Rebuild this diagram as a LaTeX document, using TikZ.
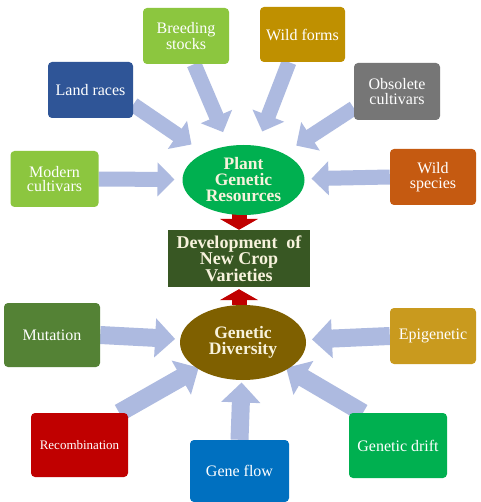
\documentclass[tikz,border=0pt]{standalone}
\usepackage{fontspec}
\setmainfont{Liberation Serif}
\usetikzlibrary{arrows.meta,shapes.geometric,calc}
\pgfdeclarelayer{back}
\pgfdeclarelayer{bg}
\pgfsetlayers{back,bg,main}
\definecolor{cLight}{HTML}{8CC63F}
\definecolor{cGold}{HTML}{BF9000}
\definecolor{cGoldB}{HTML}{C99A1E}
\definecolor{cNavy}{HTML}{2F5597}
\definecolor{cGray}{HTML}{767676}
\definecolor{cOrange}{HTML}{C55A11}
\definecolor{cGreen}{HTML}{00B050}
\definecolor{cDark}{HTML}{385723}
\definecolor{cBrown}{HTML}{7F6000}
\definecolor{cMut}{HTML}{548235}
\definecolor{cRed}{HTML}{C00000}
\definecolor{cBlue}{HTML}{0070C0}
\definecolor{cArrow}{HTML}{ADBAE0}
\definecolor{cCream}{HTML}{F7F2DC}
\tikzset{
  box/.style={draw=none, rounded corners=4pt, inner sep=0pt, align=center,
    text=white, font=\fontsize{16}{14.5}\selectfont},
  oval/.style={ellipse, draw=none, inner sep=0pt, align=center, text=cCream,
    font=\fontsize{17.5}{16}\selectfont\bfseries},
  fatA/.style={draw=cArrow, line width=15pt, -{Triangle[width=33pt,length=17pt]}},
  fatB/.style={draw=cArrow, line width=18pt, -{Triangle[width=38pt,length=20pt]}},
  redarr/.style={draw=cRed, line width=15pt, -{Triangle[width=38pt,length=11pt]}}
}
\begin{document}
\begin{tikzpicture}[x=1pt,y=-1pt]
\begin{pgfonlayer}{back}
\fill[white] (0,0) rectangle (480,502);
\end{pgfonlayer}
\useasboundingbox (0,0) rectangle (480,502);
% top sources
\node[box, fill=cLight, minimum width=86pt, minimum height=56pt] (breed) at (186,36) {Breeding\\stocks};
\node[box, fill=cGold, minimum width=85pt, minimum height=55pt] (wildf) at (302.5,34.5) {Wild forms};
\node[box, fill=cNavy, minimum width=85pt, minimum height=56pt] (land) at (90.5,90) {Land races};
\node[box, fill=cGray, minimum width=86pt, minimum height=57pt] (obs) at (397,91.5) {Obsolete\\cultivars};
\node[box, fill=cLight, minimum width=88pt, minimum height=56pt] (modern) at (54.5,179) {Modern\\cultivars};
\node[box, fill=cOrange, minimum width=86pt, minimum height=56pt] (wilds) at (433,177) {Wild\\species};
\node[oval, fill=cGreen, minimum width=122pt, minimum height=70pt] (pgr) at (243.5,180) {Plant\\Genetic\\Resources};
% center
\node[draw=none, fill=cDark, inner sep=0pt, minimum width=142pt, minimum height=57pt, align=center,
  text=cCream, font=\fontsize{18}{16.5}\selectfont\bfseries] (dev) at (239,258.5) {Development~ of\\New Crop\\Varieties};
\node[oval, fill=cBrown, minimum width=126pt, minimum height=75pt] (gd) at (243,342.5) {Genetic\\Diversity};
% bottom sources
\node[box, fill=cMut, minimum width=96pt, minimum height=64pt] (mut) at (52,335) {Mutation};
\node[box, fill=cGoldB, minimum width=86pt, minimum height=56pt] (epi) at (433,336) {Epigenetic};
\node[box, fill=cRed, minimum width=97pt, minimum height=64pt, font=\fontsize{13}{14}\selectfont] (recomb) at (79.5,445) {Recombination};
\node[box, fill=cBlue, minimum width=99pt, minimum height=62pt] (gflow) at (239.5,471) {Gene flow};
\node[box, fill=cGreen, minimum width=98pt, minimum height=65pt] (drift) at (398,445.5) {Genetic drift};
% connectors
\begin{pgfonlayer}{bg}
\draw[fatA, shorten >=69pt] (modern.east) -- (pgr.center);
\draw[fatA, shorten >=68pt] (wilds.west) -- (pgr.center);
\draw[fatA, shorten >=63pt] (land.-19) -- (pgr.center);
\draw[fatA, shorten >=52pt] (breed.-74) -- (pgr.center);
\draw[fatA, shorten >=52pt] (wildf.-116) -- (pgr.center);
\draw[fatA, shorten >=63pt] (obs.-159) -- (pgr.center);
\draw[fatB, shorten >=68pt] (mut.east) -- (gd.center);
\draw[fatB, shorten >=69pt] (epi.west) -- (gd.center);
\draw[fatB, shorten >=51pt] (recomb.39) -- (gd.center);
\draw[fatB, shorten >=40pt] (gflow.north) -- (gd.center);
\draw[fatB, shorten >=50pt] (drift.137) -- (gd.center);
\draw[redarr, shorten <=-3pt] (pgr.south -| dev.north) -- (dev.north);
\draw[redarr, shorten >=2pt] (gd.north -| dev.south) -- (dev.south);
\end{pgfonlayer}
\end{tikzpicture}
\end{document}
